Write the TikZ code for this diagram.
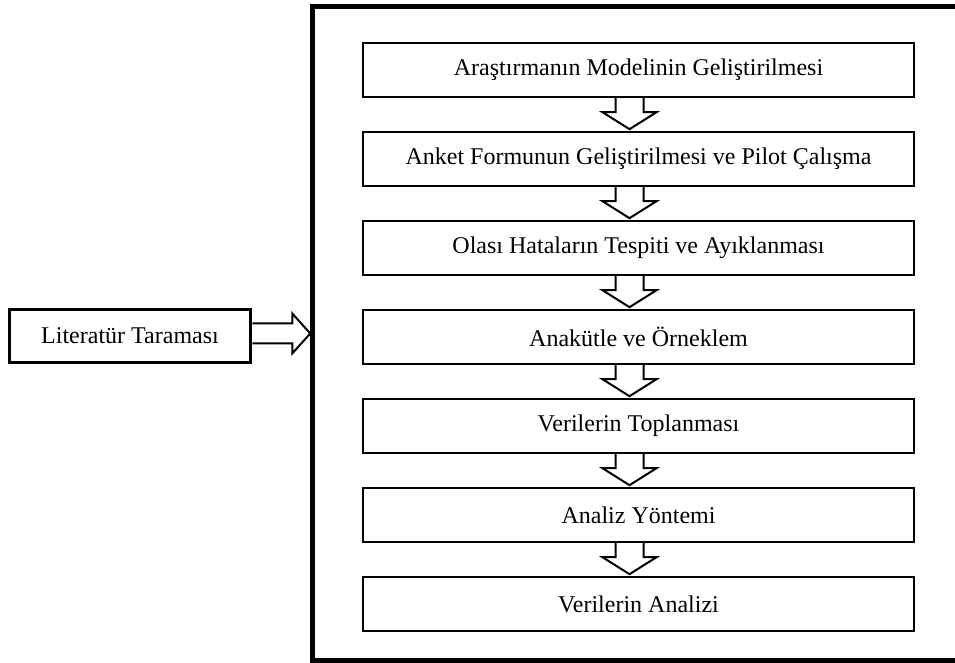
\documentclass[tikz,border=0pt]{standalone}
\usepackage{fontspec}
\setmainfont{Liberation Serif}
\begin{document}
\begin{tikzpicture}[x=1pt,y=1pt,
  stepbox/.style={draw=black,line width=2.5pt,fill=white,minimum width=551pt,minimum height=54pt,inner sep=0pt,outer sep=0pt,font=\fontsize{24}{28}\selectfont},
  litbox/.style={draw=black,line width=3.5pt,fill=white,minimum width=241pt,minimum height=53pt,inner sep=0pt,outer sep=0pt,font=\fontsize{24}{28}\selectfont},
  blockarrow/.style={draw=black,line width=2pt,fill=white,line join=miter}]
\useasboundingbox (0,0) rectangle (955,662);
% outer frame (right side runs off the picture)
\coordinate (fTR) at (955,655);
\coordinate (fTL) at (312,655);
\coordinate (fBL) at (312,2);
\coordinate (fBR) at (955,2);
\draw[line width=5pt,line join=miter] (fTR) -- (fTL) -- (fBL) -- (fBR);
% steps
\node[stepbox] (b1) at (638.5,592) {Araştırmanın Modelinin Geliştirilmesi};
\node[stepbox] (b2) at (638.5,503) {Anket Formunun Geliştirilmesi ve Pilot Çalışma};
\node[stepbox] (b3) at (638.5,414) {Olası Hataların Tespiti ve Ayıklanması};
\node[stepbox] (b4) at (638.5,325) {Anakütle ve Örneklem};
\node[stepbox] (b5) at (638.5,236) {Verilerin Toplanması};
\node[stepbox] (b6) at (638.5,147) {Analiz Yöntemi};
\node[stepbox] (b7) at (638.5,58) {Verilerin Analizi};
% down block arrows
\foreach \a in {b1,b2,b3,b4,b5,b6}{
  \draw[blockarrow] ([xshift=-9pt,yshift=-1.2pt]\a.south) ++(-14,0) -- ++(0,-14) -- ++(-13,0)
     -- ++(27,-17) -- ++(27,17) -- ++(-13,0) -- ++(0,14);
}
% left box
\node[litbox] (lit) at (130,326) {Literatür Taraması};
\coordinate (litEnd) at ([xshift=1.75pt,yshift=2.5pt]lit.east);
\draw[blockarrow] (litEnd) ++(0,10) -- ++(40,0) -- ++(0,10) -- ++(18,-20)
   -- ++(-18,-20) -- ++(0,10) -- ++(-40,0);
\end{tikzpicture}
\end{document}
